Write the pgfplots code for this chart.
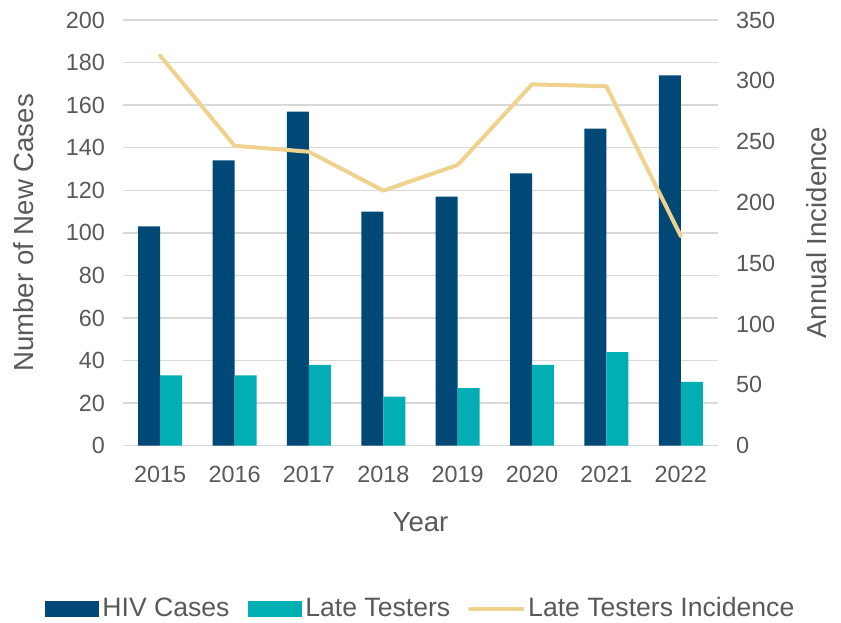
\documentclass[border=0pt]{standalone}
\usepackage{fontspec}
\setmainfont{Liberation Sans}
\usepackage{pgfplots}
\pgfplotsset{compat=1.18}
\definecolor{hivblue}{HTML}{004876}
\definecolor{lateteal}{HTML}{00AEB3}
\definecolor{incgold}{HTML}{EED28E}
\definecolor{gridgray}{HTML}{D9D9D9}
\definecolor{txtgray}{HTML}{595959}

\pgfplotsset{
  common/.style={
    scale only axis, width=297.5pt, height=212.85pt,
    xmin=2014.5, xmax=2022.5,
    xtick={2015,...,2022},
    axis line style={draw=none},
    major tick length=0pt,
    tick label style={font=\fontsize{11.7}{14}\selectfont, text=txtgray},
    /pgf/number format/assume math mode=true,
    /pgf/number format/1000 sep={},
    label style={font=\fontsize{13.8}{16}\selectfont, text=txtgray},
  }
}

\begin{document}
\begin{tikzpicture}
\path[use as bounding box] (-61.5pt,-88.15pt) rectangle (359pt,222.85pt);

\begin{axis}[
  common,
  ymin=0, ymax=200, ytick={0,20,...,200},
  ymajorgrids, grid style={gridgray, line width=0.75pt},
  yticklabel style={xshift=-5.5pt},
  xticklabel style={yshift=-6.6pt},
  ybar=0pt, bar width=11pt,
  xlabel={Year},
  xlabel style={at={([yshift=-30pt]axis description cs:0.5,0)}, anchor=north},
  ylabel={Number of New Cases},
  ylabel style={at={([xshift=-49.5pt]axis description cs:0,0.5)}, anchor=center},
]
\addplot[fill=hivblue, draw=none] coordinates {
  (2015,103) (2016,134) (2017,157) (2018,110)
  (2019,117) (2020,128) (2021,149) (2022,174)
};
\addplot[fill=lateteal, draw=none] coordinates {
  (2015,33) (2016,33) (2017,38) (2018,23)
  (2019,27) (2020,38) (2021,44) (2022,30)
};
\end{axis}

\begin{axis}[
  common,
  axis x line=none,
  axis y line*=right,
  ymin=0, ymax=350, ytick={0,50,...,350},
  yticklabel style={xshift=5.5pt},
  ylabel={Annual Incidence},
  ylabel style={at={([xshift=49.5pt]axis description cs:1,0.5)}, anchor=center},
  legend columns=3,
  legend style={
    at={([yshift=-81.5pt]axis description cs:0.5,0)}, anchor=center,
    draw=none, fill=none, inner sep=0pt,
    nodes={inner sep=1pt},
    font=\fontsize{13.3}{16}\selectfont, text=txtgray,
    /tikz/every even column/.append style={column sep=8pt},
    /tikz/every odd column/.append style={column sep=1pt},
  },
]
\addlegendimage{legend image code/.code={\fill[hivblue] (0pt,-3.75pt) rectangle (26.5pt,3.75pt);}}
\addlegendentry{HIV Cases}
\addlegendimage{legend image code/.code={\fill[lateteal] (0pt,-3.75pt) rectangle (26.5pt,3.75pt);}}
\addlegendentry{Late Testers}
\addplot[incgold, line width=2pt, line join=round, line cap=round, mark=none,
  legend image code/.code={\draw[incgold, line width=2pt, line cap=round] (0pt,0pt) -- (26pt,0pt);}]
  coordinates {
  (2015,320.6) (2016,246.6) (2017,241.7) (2018,209.7)
  (2019,230.8) (2020,297.1) (2021,295.5) (2022,172.4)
};
\addlegendentry{Late Testers Incidence}
\end{axis}
\end{tikzpicture}
\end{document}
